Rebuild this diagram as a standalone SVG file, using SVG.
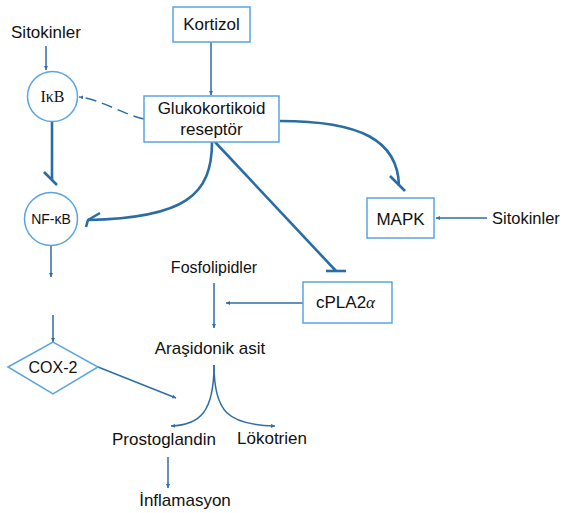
<svg xmlns="http://www.w3.org/2000/svg" width="563" height="513" viewBox="0 0 563 513">
<defs>
<style>
.box{fill:#fff;stroke:#5AA5E0;stroke-width:1.5}
.t{font-family:"Liberation Sans",Arial,sans-serif;font-size:17px;fill:#111;text-anchor:middle}
.ln{fill:none;stroke:#2E6EA6;stroke-width:1.5}
.th{fill:none;stroke:#2A6DA5;stroke-width:2.6}
</style>
<marker id="a" viewBox="0 0 6 6" refX="6" refY="3" markerWidth="4" markerHeight="4" markerUnits="userSpaceOnUse" orient="auto">
<path d="M0,0 L6,3 L0,6 Z" fill="#2E6EA6"/>
</marker>
</defs>
<rect width="563" height="513" fill="#fff"/>
<g id="connectors">
<line class="ln" x1="211" y1="42" x2="211" y2="95" marker-end="url(#a)"/>
<line class="ln" x1="46" y1="46" x2="46" y2="70" marker-end="url(#a)"/>
<path class="ln" d="M144,119 C122,114 100,99 79,97" stroke-dasharray="11,6" marker-end="url(#a)"/>
<line class="th" x1="52" y1="122" x2="52" y2="180"/>
<line class="th" x1="44" y1="172" x2="57" y2="185"/>
<path class="th" d="M212,142 C212,195 185,218 88,220"/>
<polyline class="th" points="100,213 88,220 86,227"/>
<path class="th" d="M280,121 C360,121 398,140 399,186"/>
<line class="th" x1="390" y1="176" x2="405" y2="191"/>
<line class="th" x1="215" y1="142" x2="336" y2="271"/>
<line class="th" x1="326" y1="271" x2="346" y2="271"/>
<line class="ln" x1="487" y1="218" x2="436" y2="218" marker-end="url(#a)"/>
<line class="ln" x1="303" y1="303" x2="226" y2="303" marker-end="url(#a)"/>
<line class="ln" x1="214" y1="283" x2="214" y2="328" marker-end="url(#a)"/>
<path class="ln" d="M214,365 C214,412 200,425 171,426" marker-end="url(#a)"/>
<path class="ln" d="M214,365 C214,412 228,425 275,426" marker-end="url(#a)"/>
<line class="ln" x1="51" y1="245" x2="51" y2="277" marker-end="url(#a)"/>
<line class="ln" x1="53" y1="315" x2="53" y2="342" marker-end="url(#a)"/>
<line class="ln" x1="98" y1="367" x2="176" y2="398" marker-end="url(#a)"/>
<line class="ln" x1="168" y1="457" x2="168" y2="488" marker-end="url(#a)"/>
</g>
<g id="kortizol"><rect class="box" x="173" y="7" width="77" height="35"/><text class="t" x="211.5" y="30">Kortizol</text></g>
<g id="gr"><rect class="box" x="144" y="96" width="135" height="46"/><text class="t" x="211.5" y="114">Glukokortikoid</text><text class="t" x="211.5" y="135">reseptör</text></g>
<g id="sitokinler1"><text class="t" x="46" y="38">Sitokinler</text></g>
<g id="ikb"><circle class="box" cx="52.5" cy="96.5" r="25"/><text x="52.5" y="102" font-family="'Liberation Serif','Times New Roman',serif" font-size="16" fill="#111" text-anchor="middle">IκB</text></g>
<g id="nfkb"><circle class="box" cx="51" cy="219" r="26.5"/><text x="51" y="224" font-family="'Liberation Sans',Arial,sans-serif" font-size="14" fill="#111" text-anchor="middle">NF-κB</text></g>
<g id="mapk"><rect class="box" x="367" y="198" width="67" height="40"/><text class="t" x="400.5" y="225">MAPK</text></g>
<g id="sitokinler2"><text class="t" x="492" y="224" style="text-anchor:start;font-size:16.5px">Sitokinler</text></g>
<g id="cpla2"><rect class="box" x="303" y="282" width="89" height="41"/><text class="t" x="316" y="308" style="text-anchor:start">cPLA2<tspan font-family="'Liberation Serif','Times New Roman',serif" font-style="italic">α</tspan></text></g>
<g id="fosfolipidler"><text class="t" x="214" y="273" style="font-size:16px">Fosfolipidler</text></g>
<g id="arasidonik"><text class="t" x="210" y="354">Araşidonik asit</text></g>
<g id="cox2"><polygon class="box" points="8,367 53,342 98,367 53,394"/><text class="t" x="53" y="373" style="font-size:16px">COX-2</text></g>
<g id="prostoglandin"><text class="t" x="164" y="445">Prostoglandin</text></g>
<g id="lokotrien"><text class="t" x="272" y="444">Lökotrien</text></g>
<g id="inflamasyon"><text class="t" x="185" y="506">İnflamasyon</text></g>
</svg>
